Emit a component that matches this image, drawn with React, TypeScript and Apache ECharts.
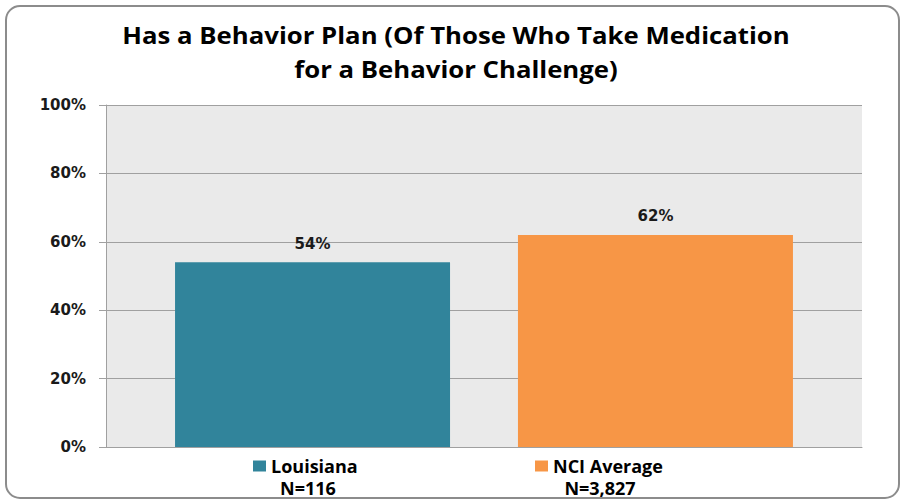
import React, { useEffect, useRef } from "react";
import * as echarts from "echarts";

const titleLines = ["Has a Behavior Plan (Of Those Who Take Medication", "for a Behavior Challenge)"];
const seriesNames = ["Louisiana", "NCI Average"];
const seriesValues = [54, 62];
const sampleSizes = ["N=116", "N=3,827"];
const seriesColors = ["#31849B", "#F79646"];
const yTicks = [0, 20, 40, 60, 80, 100];

export default function App() {
  const ref = useRef<HTMLDivElement>(null);
  useEffect(() => {
    if (!ref.current) return;
    const chart = echarts.init(ref.current, null, { renderer: "svg" });
    const legendLeft = [253, 535];
    const nCenters = [308, 600];
    const legendFont = { fontFamily: "Open Sans", fontWeight: "bold" as const, fontSize: 18, lineHeight: 18, color: "#000" };
    chart.setOption({
      animation: false,
      backgroundColor: "#ffffff",
      graphic: [
        {
          type: "rect",
          z: -10,
          shape: { x: 6, y: 6, width: 893, height: 492, r: 14 },
          style: { fill: "#ffffff", stroke: "#8c8c8c", lineWidth: 2 },
        },
        {
          type: "text",
          x: 456,
          y: 18,
          scaleX: 1.12,
          style: {
            text: titleLines.join("\n"),
            textAlign: "center",
            textVerticalAlign: "top",
            fontFamily: "Open Sans",
            fontWeight: "bold",
            fontSize: 23,
            lineHeight: 34,
            fill: "#000",
          },
        },
        ...sampleSizes.map((t, i) => ({
          type: "text",
          x: nCenters[i],
          y: 488,
          style: {
            text: t,
            textAlign: "center",
            textVerticalAlign: "middle",
            fontFamily: "Open Sans",
            fontWeight: "bold",
            fontSize: 18,
            lineHeight: 18,
            fill: "#000",
          },
        })),
      ],
      legend: seriesNames.map((n, i) => ({
        data: [n],
        left: legendLeft[i],
        top: 457,
        itemWidth: 13,
        itemHeight: 11,
        itemGap: 6,
        padding: 0,
        selectedMode: false,
        icon: "rect",
        textStyle: legendFont,
      })),
      grid: {
        left: 106,
        top: 105,
        right: 40,
        bottom: 54,
        show: true,
        backgroundColor: "#eaeaea",
        borderWidth: 0,
      },
      xAxis: {
        type: "category",
        data: [""],
        axisLine: { show: true, lineStyle: { color: "#a0a0a0", width: 1 } },
        axisTick: { show: false },
        axisLabel: { show: false },
      },
      yAxis: {
        type: "value",
        min: yTicks[0],
        max: yTicks[yTicks.length - 1],
        interval: 20,
        axisLine: { show: true, lineStyle: { color: "#a0a0a0", width: 1 } },
        axisTick: { show: true, length: 7, lineStyle: { color: "#a0a0a0" } },
        splitLine: { show: true, lineStyle: { color: "#a0a0a0", width: 1 } },
        axisLabel: {
          formatter: "{value}%",
          margin: 20,
          fontFamily: "DejaVu Sans",
          fontWeight: "bold",
          fontSize: 15,
          color: "#1a1a1a",
        },
      },
      series: seriesNames.map((n, i) => ({
        name: n,
        type: "bar",
        data: [seriesValues[i]],
        barWidth: 275,
        barGap: "24.7%",
        itemStyle: { color: seriesColors[i] },
        label: {
          show: true,
          position: "top",
          distance: 11,
          formatter: "{c}%",
          fontFamily: "DejaVu Sans",
          fontWeight: "bold",
          fontSize: 15,
          color: "#1a1a1a",
        },
      })),
    });
    return () => chart.dispose();
  }, []);
  return <div ref={ref} style={{ position: "absolute", left: 0, top: 0, width: 902, height: 501 }} />;
}
